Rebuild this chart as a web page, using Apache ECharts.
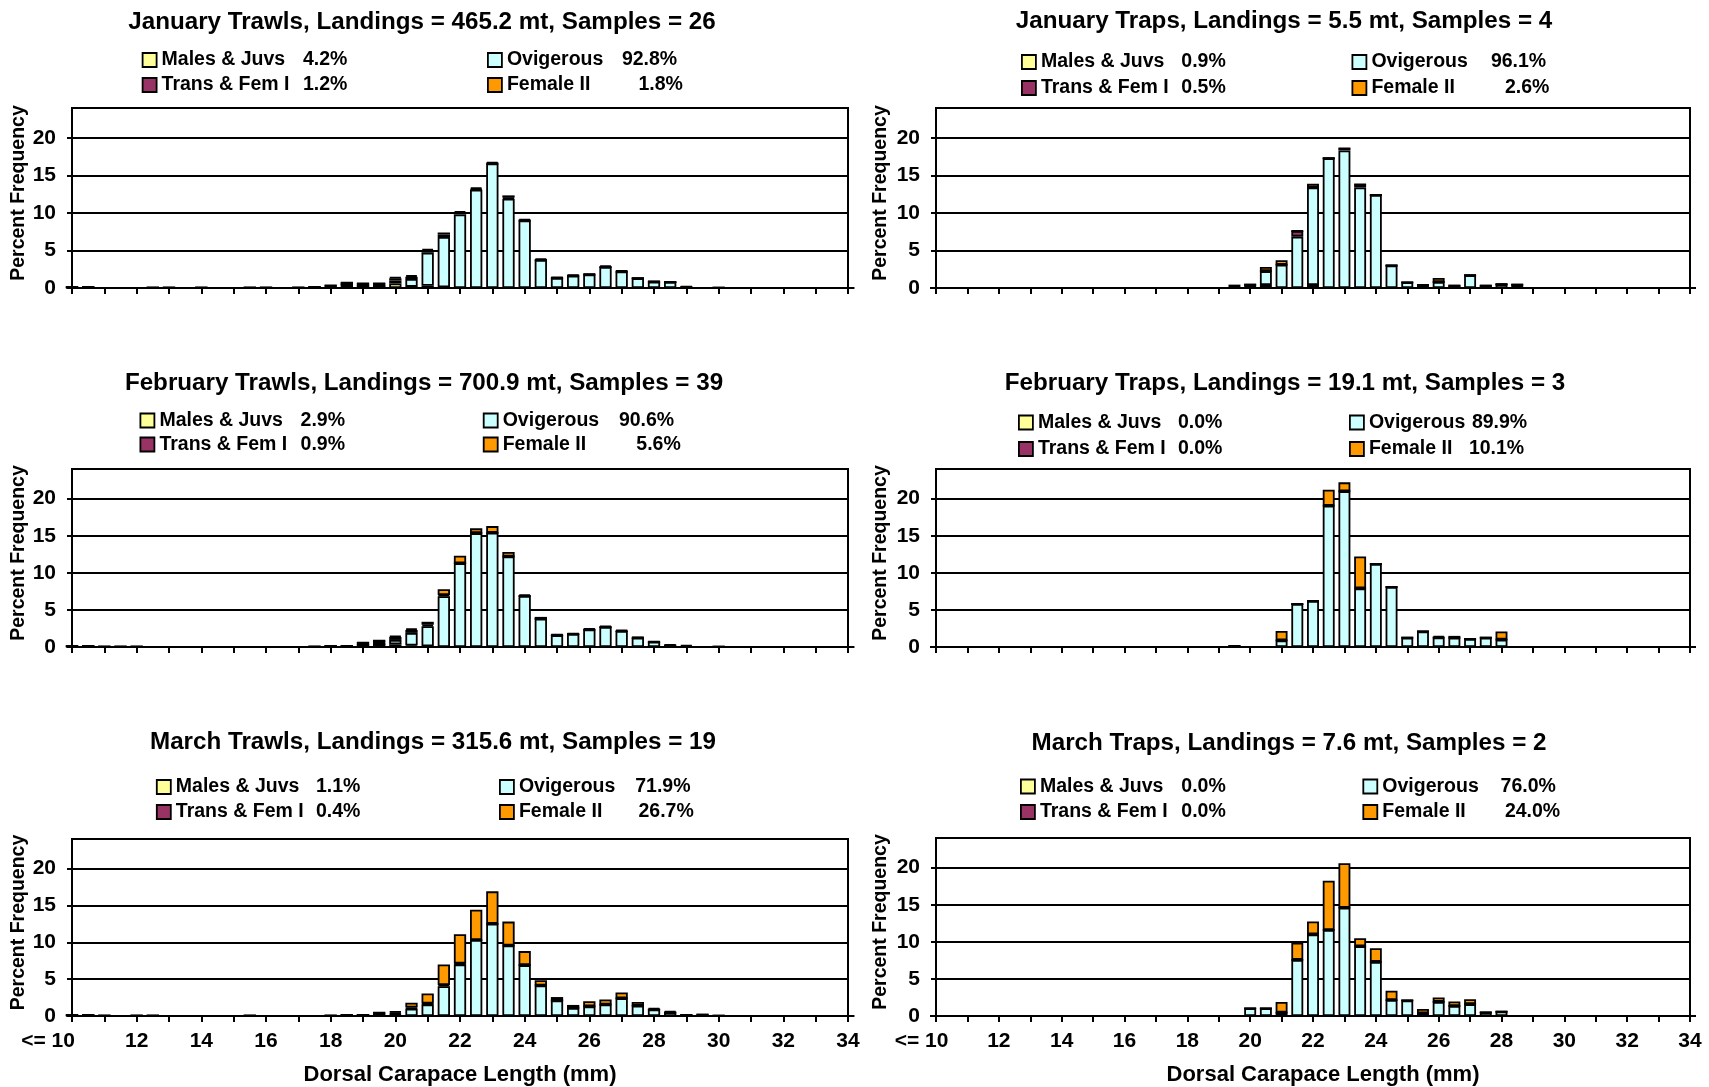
<!DOCTYPE html>
<html><head><meta charset="utf-8">
<script src="https://cdn.jsdelivr.net/npm/echarts@6/dist/echarts.min.js"></script>
<style>html,body{margin:0;padding:0;background:#fff}#c{width:1709px;height:1087px}</style>
</head><body><div id="c"></div>
<script>
// ---------- DATA ----------
const lengthCategories = ['10','10.5','11','11.5','12','12.5','13','13.5','14','14.5',
  '15','15.5','16','16.5','17','17.5','18','18.5','19','19.5',
  '20','20.5','21','21.5','22','22.5','23','23.5','24','24.5',
  '25','25.5','26','26.5','27','27.5','28','28.5','29','29.5',
  '30','30.5','31','31.5','32','32.5','33','33.5','34'];

const panelTitles = [
  'January Trawls, Landings = 465.2 mt, Samples = 26',
  'January Traps, Landings = 5.5 mt, Samples = 4',
  'February Trawls, Landings = 700.9 mt, Samples = 39',
  'February Traps, Landings = 19.1 mt, Samples = 3',
  'March Trawls, Landings = 315.6 mt, Samples = 19',
  'March Traps, Landings = 7.6 mt, Samples = 2'
];
// percentages: [Males & Juvs, Trans & Fem I, Ovigerous, Female II]
const janTrawlsPct = ['4.2%','1.2%','92.8%','1.8%'];
const janTrapsPct  = ['0.9%','0.5%','96.1%','2.6%'];
const febTrawlsPct = ['2.9%','0.9%','90.6%','5.6%'];
const febTrapsPct  = ['0.0%','0.0%','89.9%','10.1%'];
const marTrawlsPct = ['1.1%','0.4%','71.9%','26.7%'];
const marTrapsPct  = ['0.0%','0.0%','76.0%','24.0%'];

// January Trawls
const janTrawlsMales = [0.1,0.1,0,0,0,0.05,0.05,0,0.05,0,
  0,0.05,0.05,0,0.05,0.1,0.2,0.45,0.3,0.25,
  0.6,0.15,0.3,0.1,0,0,0,0,0,0,
  0,0,0,0,0,0,0,0,0,0,
  0,0,0,0,0,0,0,0,0];
const janTrawlsOvigerous = [0,0,0,0,0,0,0,0,0,0,
  0,0,0,0,0,0,0,0,0,0,
  0.4,1.05,4.4,6.7,9.8,13.1,16.6,11.9,9.0,3.75,
  1.35,1.65,1.8,2.8,2.2,1.3,0.85,0.8,0.1,0,
  0.05,0,0,0,0,0,0,0,0];
const janTrawlsTrans = [0,0,0,0,0,0,0,0,0,0,
  0,0,0,0,0,0,0.15,0.25,0.3,0.35,
  0.3,0.3,0.3,0.35,0.25,0.1,0,0.15,0,0,
  0,0,0,0,0,0,0,0,0,0,
  0,0,0,0,0,0,0,0,0];
const janTrawlsFemaleII = [0,0,0,0,0,0,0,0,0,0,
  0,0,0,0,0,0,0,0,0,0,
  0.15,0.2,0.2,0.25,0.2,0.2,0.2,0.3,0.2,0.2,
  0.1,0.15,0.1,0.2,0.15,0.05,0.05,0,0.15,0,
  0,0,0,0,0,0,0,0,0];

// January Traps
const janTrapsMales = [0,0,0,0,0,0,0,0,0,0,
  0,0,0,0,0,0,0,0,0,0,
  0,0.4,0,0,0.4,0,0,0,0,0,
  0,0,0,0,0,0,0,0,0,0,
  0,0,0,0,0,0,0,0,0];
const janTrapsOvigerous = [0,0,0,0,0,0,0,0,0,0,
  0,0,0,0,0,0,0,0,0,0,
  0.45,1.85,3.1,6.85,13.0,17.3,18.35,13.4,12.4,3.0,
  0.76,0.4,0.8,0.3,1.7,0.3,0.5,0.45,0,0,
  0,0,0,0,0,0,0,0,0];
const janTrapsTrans = [0,0,0,0,0,0,0,0,0,0,
  0,0,0,0,0,0,0,0,0,0,
  0,0,0,0.75,0,0,0.25,0.4,0,0,
  0,0,0,0,0,0,0,0,0,0,
  0,0,0,0,0,0,0,0,0];
const janTrapsFemaleII = [0,0,0,0,0,0,0,0,0,0,
  0,0,0,0,0,0,0,0,0,0.45,
  0,0.55,0.6,0,0.5,0,0,0,0,0,
  0,0,0.54,0,0,0,0,0,0,0,
  0,0,0,0,0,0,0,0,0];

// February Trawls
const febTrawlsMales = [0.1,0.1,0.05,0.05,0.05,0,0,0,0.03,0,
  0,0,0.03,0.03,0.03,0.05,0.1,0.1,0.3,0.35,
  0.35,0.2,0.1,0,0,0,0,0,0,0,
  0,0,0,0,0,0,0,0,0,0,
  0,0,0,0,0,0,0,0,0];
const febTrawlsOvigerous = [0,0,0,0,0,0,0,0,0,0,
  0,0,0,0,0,0,0,0,0,0,
  0.6,1.7,2.7,6.85,11.3,15.35,15.4,12.2,6.9,3.8,
  1.6,1.75,2.35,2.7,2.15,1.25,0.7,0.2,0,0,
  0.05,0,0,0,0,0,0,0,0];
const febTrawlsTrans = [0,0,0,0,0,0,0,0,0,0,
  0,0,0,0,0,0,0,0.05,0.3,0.5,
  0.4,0.4,0.2,0.15,0,0,0,0,0,0,
  0,0,0,0,0,0,0,0,0.1,0,
  0,0,0,0,0,0,0,0,0];
const febTrawlsFemaleII = [0,0,0,0,0,0,0,0,0,0,
  0,0,0,0,0,0,0,0,0,0,
  0.15,0.2,0.4,0.8,1.0,0.65,0.9,0.6,0.2,0.26,
  0.1,0.1,0.15,0.15,0.15,0.1,0.07,0.16,0.17,0,
  0,0,0,0,0,0,0,0,0];

// February Traps
const febTrapsMales = [0,0,0,0,0,0,0,0,0,0,
  0,0,0,0,0,0,0,0,0,0,
  0,0,0,0,0,0,0,0,0,0,
  0,0,0,0,0,0,0,0,0,0,
  0,0,0,0,0,0,0,0,0];
const febTrapsOvigerous = [0,0,0,0,0,0,0,0,0,0,
  0,0,0,0,0,0,0,0,0,0.15,
  0,0,0.9,5.8,6.2,19.05,21.0,7.9,11.2,8.1,
  1.26,2.1,1.3,1.25,1.08,1.26,1.0,0,0,0,
  0,0,0,0,0,0,0,0,0];
const febTrapsTrans = [0,0,0,0,0,0,0,0,0,0,
  0,0,0,0,0,0,0,0,0,0,
  0,0,0,0,0,0,0,0,0,0,
  0,0,0,0,0,0,0,0,0,0,
  0,0,0,0,0,0,0,0,0];
const febTrapsFemaleII = [0,0,0,0,0,0,0,0,0,0,
  0,0,0,0,0,0,0,0,0,0,
  0,0,1.27,0,0,2.15,1.2,4.3,0,0,
  0,0,0.2,0.25,0,0,1.1,0,0,0,
  0,0,0,0,0,0,0,0,0];

// March Trawls
const marTrawlsMales = [0.1,0.1,0.05,0,0.05,0.05,0,0,0,0,
  0,0.05,0,0,0,0,0.05,0.1,0.15,0.2,
  0.2,0,0,0,0,0,0,0,0,0,
  0,0,0,0,0,0,0,0,0,0,
  0,0,0,0,0,0,0,0,0];
const marTrawlsOvigerous = [0,0,0,0,0,0,0,0,0,0,
  0,0,0,0,0,0,0,0,0,0,
  0.1,1.0,1.58,4.05,7.0,10.3,12.5,9.55,6.9,4.14,
  2.1,1.1,1.3,1.55,2.4,1.4,0.9,0.5,0.1,0.15,
  0.05,0,0,0,0,0,0,0,0];
const marTrawlsTrans = [0,0,0,0,0,0,0,0,0,0,
  0,0,0,0,0,0,0,0,0,0.25,
  0.2,0.15,0.1,0.15,0.1,0,0,0,0,0,
  0,0,0,0,0,0,0,0,0.05,0.05,
  0,0,0,0,0,0,0,0,0];
const marTrawlsFemaleII = [0,0,0,0,0,0,0,0,0,0,
  0,0,0,0,0,0,0,0,0,0,
  0.14,0.65,1.38,2.8,4.0,4.1,4.4,3.25,1.9,0.72,
  0.47,0.4,0.7,0.7,0.8,0.5,0.2,0.17,0,0,
  0,0,0,0,0,0,0,0,0];

// March Traps
const marTrapsMales = [0,0,0,0,0,0,0,0,0,0,
  0,0,0,0,0,0,0,0,0,0,
  0,0,0,0,0,0,0,0,0,0,
  0,0,0,0,0,0,0,0,0,0,
  0,0,0,0,0,0,0,0,0];
const marTrapsOvigerous = [0,0,0,0,0,0,0,0,0,0,
  0,0,0,0,0,0,0,0,0,0,
  1.04,1.04,0.45,7.57,11.0,11.6,14.6,9.4,7.3,2.15,
  2.1,0.35,1.9,1.35,1.6,0.5,0.6,0,0,0,
  0,0,0,0,0,0,0,0,0];
const marTrapsTrans = [0,0,0,0,0,0,0,0,0,0,
  0,0,0,0,0,0,0,0,0,0,
  0,0,0,0,0,0,0,0,0,0,
  0,0,0,0,0,0,0,0,0,0,
  0,0,0,0,0,0,0,0,0];
const marTrapsFemaleII = [0,0,0,0,0,0,0,0,0,0,
  0,0,0,0,0,0,0,0,0,0,
  0,0,1.45,2.33,1.75,6.65,6.0,1.1,1.85,1.25,
  0,0.6,0.6,0.6,0.65,0,0,0,0,0,
  0,0,0,0,0,0,0,0,0];

// ---------- CHART ----------
const FONT = '"Liberation Sans", Arial, Helvetica, sans-serif';
const stackNames = ['Males & Juvs','Ovigerous','Trans & Fem I','Female II'];
const stackColors = ['#FFFF99','#CCFFFF','#993366','#FF9900'];
const legendOrder = ['Males & Juvs','Trans & Fem I','Ovigerous','Female II'];

const panelSeries = [
  [janTrawlsMales, janTrawlsOvigerous, janTrawlsTrans, janTrawlsFemaleII],
  [janTrapsMales, janTrapsOvigerous, janTrapsTrans, janTrapsFemaleII],
  [febTrawlsMales, febTrawlsOvigerous, febTrawlsTrans, febTrawlsFemaleII],
  [febTrapsMales, febTrapsOvigerous, febTrapsTrans, febTrapsFemaleII],
  [marTrawlsMales, marTrawlsOvigerous, marTrawlsTrans, marTrawlsFemaleII],
  [marTrapsMales, marTrapsOvigerous, marTrapsTrans, marTrapsFemaleII]
];
const panelPct = [janTrawlsPct, janTrapsPct, febTrawlsPct, febTrapsPct, marTrawlsPct, marTrapsPct];

// layout (pixels)
const layout = [
  {l:72, t:108, w:776, h:180, tx:422, ty:22, ix:[141.7,487], px:[302,302,621,637.6], ry:[61,86], yng:42.5, firstPad:48},
  {l:936, t:108, w:754, h:180, tx:1284, ty:21.5, ix:[1021,1351.5], px:[1180.4,1180.4,1490,1504], ry:[63,89], yng:45.5, firstPad:29},
  {l:72, t:469, w:776, h:178, tx:424, ty:383, ix:[139.5,482.8], px:[299.7,299.7,618,635.4], ry:[421.5,445.5], yng:42.5, firstPad:48},
  {l:936, t:469, w:754, h:178, tx:1285, ty:383.5, ix:[1018,1349], px:[1177,1177,1471,1468], ry:[423.5,450], yng:45.5, firstPad:29},
  {l:72, t:839, w:776, h:178, tx:433, ty:742, ix:[155.9,499], px:[315,315,634.3,637.6], ry:[788,813], yng:42.5, firstPad:48},
  {l:936, t:838, w:754, h:178, tx:1289, ty:743, ix:[1020,1362.4], px:[1180.4,1180.4,1499.7,1504], ry:[787.5,813], yng:45.5, firstPad:29}
];

const boldText = (size) => ({fontFamily: FONT, fontSize: size, fontWeight: 'bold', color: '#000'});

const option = {
  backgroundColor: '#fff', animation: false,
  title: [], legend: [], grid: [], xAxis: [], yAxis: [], series: []
};

layout.forEach((L, i) => {
  const bottomRow = i >= 4;
  option.grid.push({left: L.l, top: L.t, width: L.w, height: L.h, show: true,
    borderColor: '#000', borderWidth: 2, backgroundColor: '#fff'});
  option.title.push({text: panelTitles[i], left: L.tx, top: L.ty, textAlign: 'center',
    textVerticalAlign: 'middle', padding: 0, textStyle: boldText(24.2)});
  option.xAxis.push({
    type: 'category', gridIndex: i, data: lengthCategories, boundaryGap: false,
    axisLine: {lineStyle: {color: '#000', width: 2}},
    axisTick: {show: true, interval: 1, length: 6, lineStyle: {color: '#000', width: 2}},
    axisLabel: Object.assign({show: bottomRow, interval: 3, margin: 15,
      formatter: (v, idx) => idx === 0 ? '{first|<= 10}' : v,
      rich: {first: Object.assign({padding: [0, L.firstPad, 0, 0]}, boldText(21))}
    }, boldText(21)),
    splitLine: {show: false},
    name: bottomRow ? 'Dorsal Carapace Length (mm)' : '',
    nameLocation: 'middle', nameGap: 48,
    nameTextStyle: Object.assign({padding: i === 5 ? [0, 0, 0, 20] : 0}, boldText(22))
  });
  option.yAxis.push({
    type: 'value', gridIndex: i, min: 0, max: 24, interval: 5,
    axisLine: {show: true, lineStyle: {color: '#000', width: 2}},
    axisTick: {show: true, length: 5, lineStyle: {color: '#000', width: 2}},
    axisLabel: Object.assign({margin: 16, showMaxLabel: false}, boldText(21)),
    splitLine: {show: true, lineStyle: {color: '#000', width: 2}},
    name: 'Percent Frequency', nameLocation: 'middle', nameRotate: 90, nameGap: L.yng,
    nameTextStyle: Object.assign({padding: [0, 0, 0, 10]}, boldText(19.5))
  });
  stackNames.forEach((nm, k) => {
    option.series.push({
      type: 'bar', name: nm, xAxisIndex: i, yAxisIndex: i, stack: 'panel' + i,
      data: panelSeries[i][k], barCategoryGap: '24%', clip: true, silent: true,
      itemStyle: {color: stackColors[k], borderColor: '#000', borderWidth: 1.8},
      emphasis: {disabled: true}
    });
  });
  legendOrder.forEach((nm, j) => {
    const x = L.ix[j < 2 ? 0 : 1];
    const y = L.ry[j % 2];
    const nameW = L.px[j] - (x + 19);
    const pct = panelPct[i][j];
    option.legend.push({
      left: x, top: y - 11, padding: 0, itemWidth: 14, itemHeight: 14, itemGap: 0,
      selectedMode: false, icon: 'rect', data: [nm],
      itemStyle: {borderColor: '#000', borderWidth: 1.8},
      formatter: (n) => '{n|' + n + '}{p|' + pct + '}',
      textStyle: Object.assign({rich: {
        n: Object.assign({width: nameW, lineHeight: 22}, boldText(19.5)),
        p: Object.assign({lineHeight: 22}, boldText(19.5))
      }}, boldText(19.5))
    });
  });
});

const chart = echarts.init(document.getElementById('c'), null, {renderer: 'canvas'});
chart.setOption(option);
</script></body></html>
